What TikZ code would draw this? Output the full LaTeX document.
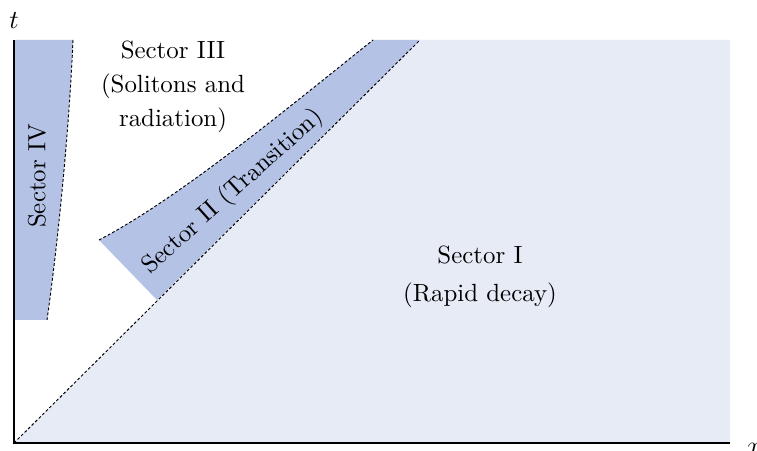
\documentclass[tikz,border=0pt]{standalone}
\definecolor{sectordark}{HTML}{B4C3E5}
\definecolor{sectorlight}{HTML}{E7EBF6}
\begin{document}
\begin{tikzpicture}[x=0.422pt,y=0.422pt,
    every node/.style={font=\fontsize{10.5pt}{12.6pt}\selectfont},
    border/.style={dash pattern=on 1.2pt off 0.9pt,line width=0.4pt},
    label/.style={align=center,inner sep=0pt}]
		\useasboundingbox (-14,-8) rectangle (743,443);
		% Corner points of the sectors
		\coordinate (O) at (0,0);
		\coordinate (Xend) at (716,0);
		\coordinate (Tend) at (0,403);
		\coordinate (Ifar) at (716,403);
		\coordinate (IItop) at (406,403);
		\coordinate (IIlow) at (143,143);
		\coordinate (IIleft) at (85,203);
		\coordinate (IIup) at (359,403);
		\coordinate (IVtop) at (59,403);
		\coordinate (IVbot) at (33,123);
		\coordinate (IVbase) at (0,123);
		% Fills the sectors
		\fill [sectorlight] (O) -- (IItop) -- (Ifar) -- (Xend) -- cycle;
		\fill [sectordark] (IIlow) -- (IItop) -- (IIup)
		.. controls (269,331) and (165,245) .. (IIleft) -- cycle;
		\fill [sectordark] (Tend) -- (IVtop)
		.. controls (56,330) and (46,215) .. (IVbot) -- (IVbase) -- cycle;
		% Dashed borders between the sectors
		\draw [border] (O) -- (IItop);
		\draw [border] (IIleft) .. controls (165,245) and (269,331) .. (IIup);
		\draw [border] (IVtop) .. controls (56,330) and (46,215) .. (IVbot);
		% Draws the axes
		\draw [very thick] (Xend) -- (O) -- (Tend);
		\node (tlab) [above=1.5pt] at (Tend) {$t$};
		\node (xlab) at (740,-6) {$x$};
		% Prints the sector names
		\node (sIII) [label] at (159,356) {Sector III\\[1.7pt](Solitons and\\[1.7pt]radiation)};
		\node (sIV) [label,rotate=90] at (23,267) {Sector IV};
		\node (sII) [label,rotate=42] at (219,251) {Sector II (Transition)};
		\node (sI) [label] at (466,166) {Sector I\\[3.4pt](Rapid decay)};
\end{tikzpicture}
\end{document}
